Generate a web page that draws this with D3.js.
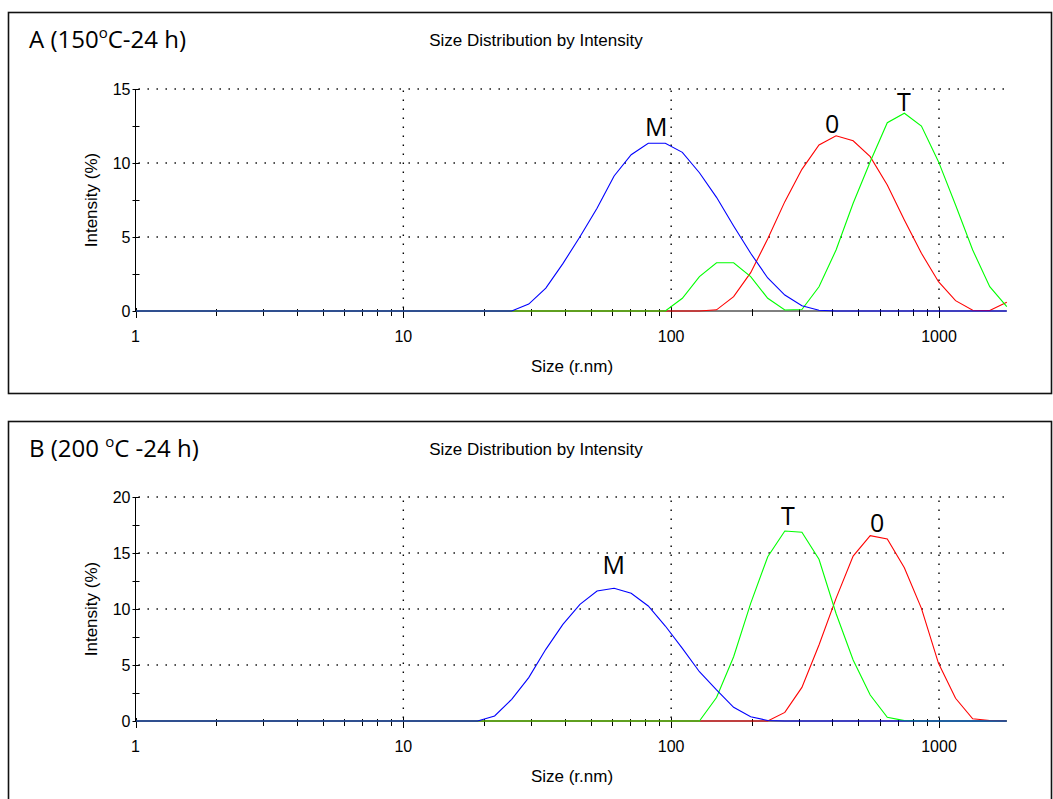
<!DOCTYPE html>
<html lang="en">
<head>
<meta charset="UTF-8">
<title>Size Distribution by Intensity</title>
<script src="https://d3js.org/d3.v7.min.js"></script>
<style>
    body { margin: 0; background: #fff; }
    svg { display: block; }
    .lab { font-family: "Liberation Sans", Arial, sans-serif; font-size: 17px; fill: #000; }
    .tick { font-family: "Liberation Sans", Arial, sans-serif; font-size: 16px; fill: #000; }
    .big { font-family: "Open Sans", sans-serif; font-size: 24px; fill: #000; }
</style>
</head>
<body>
<div id="chart"></div>
<script>
// size bins (radius, nm) shared by both measurements
const sizeBins = [1.005, 1.164, 1.348, 1.561, 1.808, 2.094, 2.425, 2.808, 3.252, 3.766,
    4.362, 5.051, 5.850, 6.774, 7.845, 9.085, 10.52, 12.18, 14.11, 16.34,
    18.93, 21.92, 25.38, 29.39, 34.04, 39.42, 45.65, 52.87, 61.23, 70.91,
    82.12, 95.10, 110.1, 127.5, 147.7, 171.1, 198.1, 229.4, 265.7, 307.7,
    356.4, 412.7, 478.0, 553.6, 641.1, 742.4, 859.8, 995.7, 1153, 1336, 1547, 1791];

// panel A (150 C - 24 h)
const blueA = [0, 0, 0, 0, 0, 0, 0, 0, 0, 0, 0, 0, 0, 0, 0, 0, 0, 0, 0, 0, 0, 0, 0,
    0.47, 1.55, 3.2, 5.02, 6.94, 9.12, 10.56, 11.33, 11.33, 10.72, 9.34, 7.68, 5.74, 3.9, 2.23, 1.08, 0.36, 0.05,
    0, 0, 0, 0, 0, 0, 0, 0, 0, 0, 0];
const greenA = [0, 0, 0, 0, 0, 0, 0, 0, 0, 0, 0, 0, 0, 0, 0, 0, 0, 0, 0, 0, 0, 0, 0, 0, 0, 0, 0, 0, 0, 0, 0, 0,
    0.86, 2.32, 3.26, 3.26, 2.32, 0.86, 0.07, 0.1, 1.64, 4.12, 7.28, 10.09, 12.72, 13.36, 12.5, 10.09, 7.16, 4.12, 1.64, 0.29];
const redA = [0, 0, 0, 0, 0, 0, 0, 0, 0, 0, 0, 0, 0, 0, 0, 0, 0, 0, 0, 0, 0, 0, 0, 0, 0, 0, 0, 0, 0, 0, 0, 0, 0, 0,
    0.08, 0.97, 2.59, 4.88, 7.39, 9.57, 11.22, 11.84, 11.5, 10.43, 8.51, 6.15, 3.9, 1.98, 0.7, 0.05, 0.03, 0.59];

// panel B (200 C - 24 h)
const blueB = [0, 0, 0, 0, 0, 0, 0, 0, 0, 0, 0, 0, 0, 0, 0, 0, 0, 0, 0, 0, 0,
    0.45, 1.94, 3.87, 6.4, 8.63, 10.42, 11.61, 11.85, 11.4, 10.27, 8.48, 6.49, 4.4, 2.77, 1.22, 0.38, 0.05,
    0, 0, 0, 0, 0, 0, 0, 0, 0, 0, 0, 0, 0, 0];
const greenB = [0, 0, 0, 0, 0, 0, 0, 0, 0, 0, 0, 0, 0, 0, 0, 0, 0, 0, 0, 0, 0, 0, 0, 0, 0, 0, 0, 0, 0, 0, 0, 0, 0, 0,
    2.1, 5.74, 10.5, 14.67, 16.96, 16.85, 14.44, 9.6, 5.45, 2.32, 0.33, 0.03,
    0, 0, 0, 0, 0, 0];
const redB = [0, 0, 0, 0, 0, 0, 0, 0, 0, 0, 0, 0, 0, 0, 0, 0, 0, 0, 0, 0, 0, 0, 0, 0, 0, 0, 0, 0, 0, 0, 0, 0, 0, 0, 0, 0, 0, 0,
    0.77, 3.0, 6.79, 10.95, 14.73, 16.55, 16.25, 13.69, 10.06, 5.15, 2.03, 0.2, 0.05, 0];

// peak labels
const peakNamesA = ["M", "0", "T"];
const peakSizesA = [88, 399, 740];
const peakValuesA = [11.8, 12.0, 13.5];
const peakNamesB = ["M", "T", "0"];
const peakSizesB = [61, 273, 587];
const peakValuesB = [13.1, 17.5, 16.9];

const xTicks = [1, 10, 100, 1000];
const yTicksA = [0, 5, 10, 15];
const yTicksB = [0, 5, 10, 15, 20];

const width = 1053, height = 799;
const svg = d3.select("#chart").append("svg")
    .attr("width", width)
    .attr("height", height);

const xMax = sizeBins[sizeBins.length - 1];
const x = d3.scaleLog().domain([1, 1000]).range([135.5, 939]);

const panels = [
    { label: "A (150", rest: "C-24 h)", frameTop: 12, frameH: 381, y0: 311, yTop: 89, ticks: yTicksA,
      series: [redA, greenA, blueA], names: peakNamesA, ps: peakSizesA, pv: peakValuesA },
    { label: "B (200 ", rest: "C -24 h)", frameTop: 421, frameH: 400, y0: 721, yTop: 497, ticks: yTicksB,
      series: [redB, greenB, blueB], names: peakNamesB, ps: peakSizesB, pv: peakValuesB }
];
const colors = ["#ff0000", "#00ff00", "#0000ff"];

panels.forEach(p => {
    const g = svg.append("g");
    const yMax = p.ticks[p.ticks.length - 1];
    const y = d3.scaleLinear().domain([0, yMax]).range([p.y0, p.yTop]);
    const x0 = x(1), x1 = x(xMax);

    g.append("rect")
        .attr("x", 8.5).attr("y", p.frameTop + 0.5)
        .attr("width", 1043).attr("height", p.frameH)
        .attr("fill", "none").attr("stroke", "#111").attr("stroke-width", 1.6);

    // title
    const t = g.append("text").attr("class", "big")
        .attr("x", 29).attr("y", p.frameTop + 36);
    t.append("tspan").text(p.label);
    t.append("tspan").attr("dy", -10).style("font-size", "15px").text("o");
    t.append("tspan").attr("dy", 10).text(p.rest);

    g.append("text").attr("class", "lab")
        .attr("x", 536).attr("y", p.frameTop + 34)
        .attr("text-anchor", "middle")
        .text("Size Distribution by Intensity");

    // dotted grid
    p.ticks.filter(v => v > 0).forEach(v => {
        g.append("line")
            .attr("x1", x0 + 3).attr("x2", x1)
            .attr("y1", y(v)).attr("y2", y(v))
            .attr("stroke", "#000").attr("stroke-width", 1.4)
            .attr("stroke-dasharray", "1.4,7.6");
    });
    xTicks.filter(v => v > 1).forEach(v => {
        g.append("line")
            .attr("x1", x(v)).attr("x2", x(v))
            .attr("y1", p.y0 - 3).attr("y2", p.yTop)
            .attr("stroke", "#000").attr("stroke-width", 1.4)
            .attr("stroke-dasharray", "1.4,7.6");
    });

    // y axis
    g.append("line")
        .attr("x1", x0).attr("x2", x0)
        .attr("y1", p.yTop).attr("y2", p.y0)
        .attr("stroke", "#000");
    const step = p.ticks[1] - p.ticks[0];
    d3.range(0, yMax + 0.01, step / 2).forEach(v => {
        g.append("line")
            .attr("x1", x0 - 3).attr("x2", x0 + 4)
            .attr("y1", Math.round(y(v)) + 0.5).attr("y2", Math.round(y(v)) + 0.5)
            .attr("stroke", "#000");
    });
    g.selectAll(".ytl").data(p.ticks).enter().append("text")
        .attr("class", "tick")
        .attr("x", x0 - 5).attr("y", d => y(d))
        .attr("dy", "0.36em")
        .attr("text-anchor", "end")
        .text(d => d);

    g.append("text").attr("class", "lab")
        .attr("transform", `translate(97,${(p.y0 + p.yTop) / 2}) rotate(-90)`)
        .attr("text-anchor", "middle")
        .text("Intensity (%)");

    // x axis
    g.append("line")
        .attr("x1", x0).attr("x2", x1)
        .attr("y1", p.y0).attr("y2", p.y0)
        .attr("stroke", "#000");
    const minor = [];
    [1, 10, 100, 1000].forEach(d => d3.range(2, 10).forEach(k => { if (d * k <= xMax) minor.push(d * k); }));
    minor.forEach(v => {
        g.append("line")
            .attr("x1", Math.round(x(v)) + 0.5).attr("x2", Math.round(x(v)) + 0.5)
            .attr("y1", p.y0 - 2).attr("y2", p.y0 + 5)
            .attr("stroke", "#000");
    });
    xTicks.forEach(v => {
        g.append("line")
            .attr("x1", Math.round(x(v)) + 0.5).attr("x2", Math.round(x(v)) + 0.5)
            .attr("y1", p.y0 - 3).attr("y2", p.y0 + 7)
            .attr("stroke", "#000");
    });
    g.selectAll(".xtl").data(xTicks).enter().append("text")
        .attr("class", "tick")
        .attr("x", d => x(d)).attr("y", p.y0 + 31)
        .attr("text-anchor", "middle")
        .text(d => d);
    g.append("text").attr("class", "lab")
        .attr("x", 572).attr("y", p.y0 + 61)
        .attr("text-anchor", "middle")
        .text("Size (r.nm)");

    // series
    const line = d3.line()
        .x((d, i) => x(sizeBins[i]))
        .y(d => y(d));
    p.series.forEach((s, k) => {
        g.append("path")
            .attr("d", line(s))
            .attr("fill", "none")
            .attr("stroke", colors[k])
            .attr("stroke-width", 1.1);
    });

    // peak labels
    p.names.forEach((n, i) => {
        g.append("text").attr("class", "big")
            .attr("x", x(p.ps[i])).attr("y", y(p.pv[i]))
            .attr("text-anchor", "middle")
            .style("font-size", "25px")
            .text(n);
    });
});
</script>
</body>
</html>
